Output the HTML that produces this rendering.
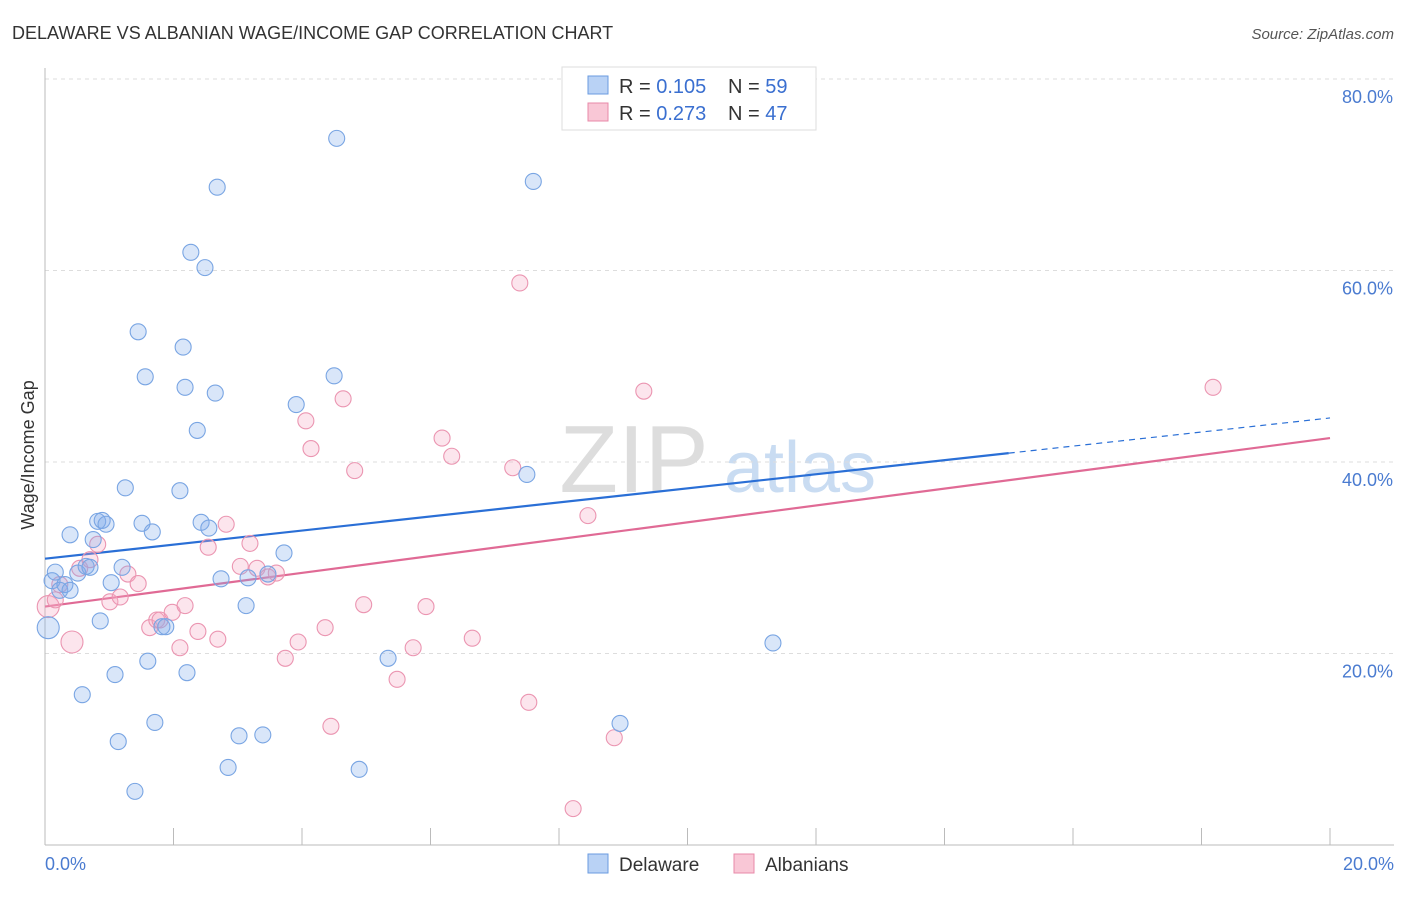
<!DOCTYPE html>
<html><head><meta charset="utf-8"><style>
body{margin:0;background:#fff;font-family:"Liberation Sans",sans-serif;}
svg text{font-family:"Liberation Sans",sans-serif;}
</style></head><body>
<svg id="chart" width="1406" height="892" xmlns="http://www.w3.org/2000/svg">
<text x="12" y="39" font-size="18" fill="#333">DELAWARE VS ALBANIAN WAGE/INCOME GAP CORRELATION CHART</text>
<text x="1394" y="39" font-size="15" fill="#555" font-style="italic" text-anchor="end">Source: ZipAtlas.com</text>
<text x="634" y="492" font-size="96" fill="#ddd" font-family="Liberation Serif" text-anchor="middle">ZIP</text>
<text x="800" y="492" font-size="72" fill="#c9dcf2" text-anchor="middle">atlas</text>
<g id="grid"></g><g id="axes"></g><g id="lines"></g><g id="pts"></g>
<text x="34" y="455" font-size="18" fill="#333" text-anchor="middle" transform="rotate(-90 34 455)">Wage/Income Gap</text>
<text x="45" y="870" font-size="18" fill="#4a7bd0">0.0%</text>
<text x="1394" y="870" font-size="18" fill="#4a7bd0" text-anchor="end">20.0%</text>
<g>
<rect x="562" y="67" width="254" height="63" fill="#fff" stroke="#ddd"/>
<rect x="588" y="76" width="20" height="18" fill="#b9d2f5" stroke="#6a9be0"/>
<text x="619" y="93" font-size="20" fill="#333">R = <tspan fill="#3a6fd0">0.105</tspan></text>
<text x="728" y="93" font-size="20" fill="#333">N = <tspan fill="#3a6fd0">59</tspan></text>
<rect x="588" y="103" width="20" height="18" fill="#f9c7d6" stroke="#e88aa8"/>
<text x="619" y="120" font-size="20" fill="#333">R = <tspan fill="#3a6fd0">0.273</tspan></text>
<text x="728" y="120" font-size="20" fill="#333">N = <tspan fill="#3a6fd0">47</tspan></text>
</g>
<g>
<rect x="588" y="854" width="20" height="19" fill="#b9d2f5" stroke="#6a9be0"/>
<text x="619" y="871" font-size="19" fill="#333">Delaware</text>
<rect x="734" y="854" width="20" height="19" fill="#f9c7d6" stroke="#e88aa8"/>
<text x="765" y="871" font-size="19" fill="#333">Albanians</text>
</g>
</svg>
<script>
const blueX=[0.11,0.16,0.23,0.31,0.39,0.05,0.39,0.51,0.58,0.64,0.70,0.75,0.82,0.86,0.89,0.95,1.03,1.09,1.14,1.20,1.25,1.40,1.45,1.51,1.56,1.60,1.67,1.71,1.82,1.88,2.10,2.15,2.18,2.21,2.27,2.37,2.43,2.49,2.55,2.65,2.68,2.74,2.85,3.02,3.13,3.16,3.39,3.47,3.72,3.91,4.50,4.54,4.89,5.34,7.50,7.60,8.95,11.33];
const blueY=[27.6,28.5,26.6,27.2,26.6,22.7,32.4,28.4,15.7,29.1,29.0,31.9,33.8,23.4,33.9,33.5,27.4,17.8,10.8,29.0,37.3,5.6,53.6,33.6,48.9,19.2,32.7,12.8,22.8,22.8,37.0,52.0,47.8,18.0,61.9,43.3,33.7,60.3,33.1,47.2,68.7,27.8,8.1,11.4,25.0,27.9,11.5,28.3,30.5,46.0,49.0,73.8,7.9,19.5,38.7,69.3,12.7,21.1];
const pinkX=[0.05,0.16,0.23,0.42,0.54,0.70,0.82,1.01,1.17,1.29,1.45,1.63,1.74,1.79,1.98,2.10,2.18,2.38,2.54,2.69,2.82,3.04,3.19,3.30,3.47,3.60,3.74,3.94,4.06,4.14,4.36,4.45,4.64,4.82,4.96,5.48,5.73,5.93,6.18,6.33,6.65,7.28,7.39,7.53,8.22,8.45,8.86,9.32,18.18];
const pinkY=[24.9,25.6,27.2,21.2,28.9,29.8,31.4,25.4,25.9,28.3,27.3,22.7,23.5,23.5,24.3,20.6,25.0,22.3,31.1,21.5,33.5,29.1,31.5,28.9,28.0,28.4,19.5,21.2,44.3,41.4,22.7,12.4,46.6,39.1,25.1,17.3,20.6,24.9,42.5,40.6,21.6,39.4,58.7,14.9,3.8,34.4,11.2,47.4,47.8];
const blueTrend=[29.9,44.6];
const pinkTrend=[24.9,42.5];
const yTicks=[20,40,60,80];
const NS='http://www.w3.org/2000/svg';
const sx=v=>45+v*64.25, sy=v=>845-v*9.575;
function mk(t,a,p){const e=document.createElementNS(NS,t);for(const k in a)e.setAttribute(k,a[k]);p.appendChild(e);return e;}
const grid=document.getElementById('grid'),axes=document.getElementById('axes'),lines=document.getElementById('lines'),pts=document.getElementById('pts');
yTicks.forEach(v=>{
 const l=mk('line',{x1:45,x2:1394,y1:sy(v),y2:sy(v),stroke:'#ddd','stroke-dasharray':'4,4'},grid);
 
 
 const t=mk('text',{x:1393,y:sy(v)+24,'font-size':18,fill:'#4a7bd0','text-anchor':'end'},grid);t.textContent=v.toFixed(1)+'%';
 
 
});
mk('line',{x1:45,x2:45,y1:68,y2:845,stroke:'#bbb'},axes);
mk('line',{x1:45,x2:1394,y1:845,y2:845,stroke:'#bbb'},axes);
for(let i=0;i<=10;i++){const x=sx(i*2);const t=mk('line',{x1:x,x2:x,y1:828,y2:845,stroke:'#bbb'},axes);
 
 }
function trend(tr,col,dashFrom,name){
 const y=x=>tr[0]+(tr[1]-tr[0])*x/20;
 const end=dashFrom||20;
 const l=mk('line',{x1:sx(0),y1:sy(y(0)),x2:sx(end),y2:sy(y(end)),stroke:col,'stroke-width':2.2},lines);
 
 
 if(dashFrom){const d=mk('line',{x1:sx(end),y1:sy(y(end)),x2:sx(20),y2:sy(y(20)),stroke:col,'stroke-width':1.2,'stroke-dasharray':'6,5'},lines);
 
 }
}
trend(blueTrend,'#2a6fd6',15,'delaware-trend-line');
trend(pinkTrend,'#e06a95',0,'albanians-trend-line');
function dots(X,Y,fill,stroke,name){X.forEach((x,i)=>{const r=(x<0.1||(name==='albanians-point'&&i===3))?11:8;
 const c=mk('circle',{cx:sx(x),cy:sy(Y[i]),r:r,fill:fill,stroke:stroke,'stroke-width':1.1},pts);
 
 });}
dots(pinkX,pinkY,'rgba(244,170,195,0.3)','#eb95b1','albanians-point');
dots(blueX,blueY,'rgba(130,172,235,0.3)','#79a5e3','delaware-point');
</script>
</body></html>
